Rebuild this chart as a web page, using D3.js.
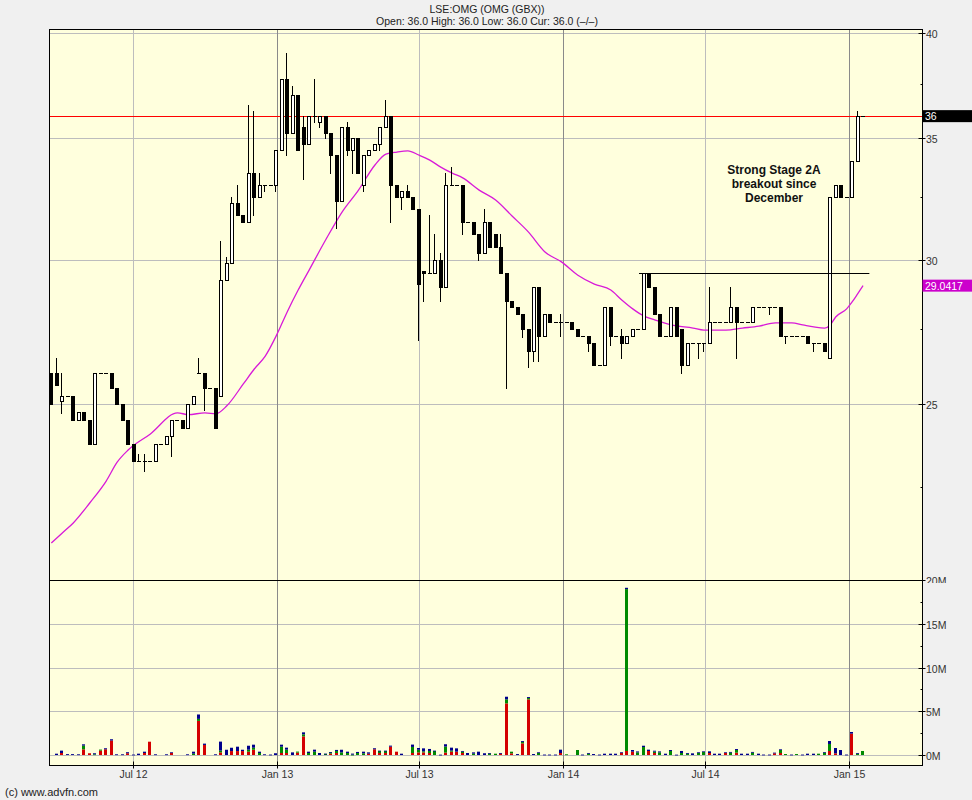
<!DOCTYPE html>
<html><head><meta charset="utf-8">
<script src="https://cdn.jsdelivr.net/npm/d3@7"></script>
<style>
body{margin:0;background:#f0f0f0;}
svg{display:block;}
text{font-family:"Liberation Sans",Arial,sans-serif;}
</style></head><body>
<svg id="c" width="972" height="800"></svg>
<script>
// ---------- DATA ----------
const firstWeek = new Date(2012, 2, 19);   // first weekly candle (Monday)
const lastWeek  = new Date(2015, 0, 19);   // last weekly candle (Monday)

const open  = [26,26,25.1,25.25,25.25,24.5,24.75,24.5,23.75,26,26,26,25.5,25,24.5,23.75,23.25,23.25,23.25,23.25,23.75,23.75,24,24.5,24.5,24.25,25,26,26,25.5,25.5,25.25,29.25,29.9,32.25,31.75,31.5,33.5,32.5,33,33,33,34.5,37.75,35.25,37,35.5,34.75,36,35.75,36,35.25,34.25,32.35,35.5,34.5,35,33,34.25,34.5,34.75,35.5,36,33,32.5,32.75,32.5,32,29.6,29.5,29.5,30,29,33,33,33,31.5,31.5,31,30.25,31.5,31,30.5,29.5,28.5,28.25,28,27.5,26.75,29,27.25,28,27.75,27.75,27.75,27.75,27.5,27.25,27.25,27,26.25,26.25,28.25,27.25,27.25,27,27.25,27.5,27.5,29.5,29,28,27.25,27.25,28.25,27.5,26.25,27,27,27,27,27.75,27.75,27.75,27.75,28.25,27.75,27.75,27.75,28.25,28.25,28.25,28.25,28.25,27.25,27.25,27.25,27.25,27.25,27,27,27,26.5,32.5,33,32.5,32.5,34,36];
const high  = [26,26.5,26,25.25,25.25,24.75,24.75,24.5,26,26,26,26,25.5,25,24.5,23.75,23.45,23.45,23.25,23.75,23.75,24,24.5,24.5,24.5,25,25.25,26.5,26,25.5,25.5,30.75,30.1,32.5,33,31.75,36.5,36.25,33.5,33,33,34.5,37.75,39,37.4,37,36,36,37.75,36,36,35.25,34.25,35.5,35.75,35,35,34.25,34.5,34.75,35.5,36.75,36,33,32.75,33,32.5,32,29.6,31.75,31,30.25,33.5,33.75,33,33,31.5,31.5,31,32,31.5,31,31,29.5,28.5,28.25,28,27.5,29,29,28,28,27.75,28,27.75,27.75,27.5,27.25,27.25,27,26.25,28.25,28.25,27.25,27.5,27.25,27.5,27.5,29.5,29.5,29,28,27.25,28.25,28.25,27.5,27,27,27,27,29,27.75,27.75,27.75,29,28.25,27.75,27.75,28.25,28.25,28.25,28.25,28.25,28.25,27.25,27.25,27.25,27.25,27.25,27,27,27,32.5,33,33,32.5,34,36.25,36];
const low   = [25,25.6,24.7,25.25,24.5,24.5,24.5,23.75,23.75,26,26,25.5,25,24.5,23.75,23.25,23.25,22.95,23.25,23.25,23.75,23.75,23.4,24.5,24.25,24.25,25,26,24.8,25.5,24.25,25.25,29.25,29.9,31.75,31.5,31.5,31.75,32.5,32.75,33,32.75,34.5,34.25,35.25,34.5,33.25,34.75,35.75,35.5,35,33.5,31.25,32.35,34.25,33.5,33.5,32.75,34.25,34.5,34.5,35.5,31.5,32.5,32,32.5,32,27.1,28.5,29.5,29.5,28.5,29,33,33,31,31.5,31,30,30.25,30.5,30.5,29.5,25.5,28.25,28,27.2,26.2,26.4,26.4,27.25,27.75,27.75,27.25,27.75,27.5,27.25,27.25,26.75,26.25,26.25,26.25,26.95,27.25,26.5,27,27.25,27.5,27.5,29,28,27.25,27.25,27.25,27.25,26,26.25,27,26.5,26.75,27,27.75,27.75,27.75,27.75,26.5,27.75,27.75,27.75,28.25,28.25,28,28.25,27.25,27,27.25,27.25,27.25,27,26.75,27,26.75,26.5,32.5,32.5,32.5,32.5,34,36];
const close = [25,25.6,25.25,25.25,24.5,24.75,24.5,23.75,26,26,26,25.5,25,24.5,23.75,23.25,23.25,23.25,23.25,23.75,23.75,24,24.5,24.5,24.25,25,25.25,26,25.5,25.5,24.25,29.25,29.9,32.25,31.75,31.5,33.5,32.5,33,33,33,34.5,37.75,35.25,37,34.5,34.75,36,36,36,35.25,34.25,32.35,35.5,34.5,35,33.5,34.25,34.5,34.75,35.5,36,33,32.5,32.75,32.5,32,29.1,29.5,29.5,30,29,33,33,33,31.5,31.5,31,30.25,31.5,30.5,30.5,29.5,28.5,28.25,28,27.5,26.75,29,27.25,28,27.75,27.75,27.75,27.75,27.5,27.25,27.25,27,26.25,26.25,28.25,27.25,27.25,27,27.25,27.5,27.5,29.5,29,28,27.25,27.25,28.25,27.25,26.25,27,27,27,27,27.75,27.75,27.75,27.75,28.25,27.75,27.75,27.75,28.25,28.25,28.25,28.25,28.25,27.25,27.25,27.25,27.25,27.25,27,27,27,26.75,32.5,33,32.5,32.5,34,36,36];

// weekly volume (millions of shares), split in three stacked parts
const volRed   = [0,0,0.23,0,0,0,0.65,0.2,0,0.5,0.65,1.65,0,0,0.2,0,0,0.23,1.52,0,0,0,0.23,0,0,0,0,3.9,1.15,0,0,0.3,0,0.45,0.45,0.45,0.38,0.6,0,0,0,0,0.23,0.23,0,0.27,2.13,0,0,0,0,0.15,0.23,0,0,0,0,0,0.15,0.65,0.23,0.23,0.95,0.38,0,0,0.23,0.3,0.3,0.23,0,0,0.27,0.38,0.38,0.23,0,0,0,0,0,0,0.15,5.9,0.19,0,1.33,6.36,0,0,0,0,0,0.23,0,0,0,0,0,0,0,0,0,0,0.23,0.46,0.38,0,0,0.46,0.23,0,0,0,0,0,0,0,0,0,0.23,0,0,0.23,0,0.27,0,0,0,0,0,0,0.19,0.23,0,0,0,0,0,0,0,0,0.46,0.19,0,0,2.44,0,0];
const volGreen = [0,0,0,0,0,0,0.42,0,0.08,0.12,0,0,0,0,0,0,0,0,0,0,0,0,0,0,0,0,0.15,0.23,0,0,0,0.2,0,0,0,0,0.23,0.23,0.23,0,0,0,0.72,0.38,0,0.12,0.23,0.23,0.38,0,0.12,0.15,0.23,0.3,0.23,0.04,0.23,0.19,0,0,0.23,0.23,0,0,0,0,0.69,0.3,0.12,0.23,0.46,0,0.69,0.12,0,0.15,0,0.15,0,0,0.15,0.15,0,0.46,0.19,0,0.15,0.15,0,0.23,0,0,0,0,0.08,0,0.57,0,0.15,0,0,0,0,0,0,18.5,0,0.3,0.91,0,0.15,0.3,0,0.46,0,0.23,0.15,0,0.23,0.34,0,0,0,0,0.27,0.3,0,0,0.27,0,0,0,0,0.34,0.11,0,0.11,0,0,0,0.15,0.27,0.8,0,0,0,0,0.15,0.46];
const volBlue  = [0,0.15,0.27,0.1,0.1,0.08,0.15,0,0.12,0,0.12,0.15,0.08,0.08,0.12,0.05,0.15,0.15,0,0.08,0,0.08,0.08,0,0,0.08,0.23,0.5,0.15,0,0.08,1.03,0.6,0.38,0.5,0.15,0.45,0.35,0.15,0.08,0.05,0.2,0.23,0.23,0.3,0,0.23,0.15,0.23,0.23,0.04,0.04,0.12,0.3,0.15,0.12,0.12,0.19,0.15,0.12,0.04,0.04,0.12,0,0.15,0,0.27,0.2,0.34,0.23,0.04,0.04,0.27,0.34,0.38,0.08,0.23,0.15,0.38,0.2,0.07,0,0.08,0.3,0,0.11,0.11,0.11,0.11,0.08,0.05,0.05,0.05,0.38,0,0,0,0.05,0.08,0.11,0.05,0.15,0.15,0.15,0.08,0.15,0.19,0.11,0.15,0.15,0.11,0.11,0.15,0.11,0.04,0.23,0.08,0.19,0.08,0.08,0.19,0.15,0.15,0.08,0.08,0.11,0.15,0.15,0.08,0.15,0.05,0.05,0.08,0.08,0,0.05,0,0.05,0.15,0.15,0,0.04,0.34,0.61,0.57,0.05,0.19,0.08,0];

// moving average at some candle weeks
const maWeek  = [0,2,4,7,10,12,14,18,23,25,28,30,32,35,37,39,41,43,45,47,50,53,56,59,61,63,65,67,69,71,73,75,78,81,84,87,90,93,96,99,102,104,106,108,110,113,117,119,123,126,129,132,135,137,139,141,142,143,145,146,147,148];
const maValue = [20.96,21.23,21.5,22.05,22.67,23.22,23.58,24.06,24.72,24.66,24.72,24.69,24.94,25.64,26.13,26.56,27.25,28.09,28.88,29.62,30.77,31.88,32.78,33.84,34.31,34.4,34.45,34.27,34.05,33.75,33.5,33.29,32.78,32.37,31.72,31.08,30.31,29.93,29.43,29.1,28.88,28.52,28.2,27.95,27.81,27.63,27.52,27.45,27.45,27.52,27.59,27.7,27.7,27.63,27.56,27.52,27.63,27.91,28.2,28.45,28.74,29.0417];

const priceTicks = [40,35,30,25,20];
const priceMinor = [37.5,32.5,27.5,22.5];
const volTicks   = [15,10,5,0];
const volMinor   = [17.5,12.5,7.5,2.5];
const timeTicks  = [new Date(2012,6,1),new Date(2013,0,1),new Date(2013,6,1),new Date(2014,0,1),new Date(2014,6,1),new Date(2015,0,1)];
const timeLabels = ["Jul 12","Jan 13","Jul 13","Jan 14","Jul 14","Jan 15"];
const lastPrice = 36, lastMA = 29.0417;
const resistance = {from:new Date(2014,3,8), to:new Date(2015,0,27), value:29.5};
const titleText = "LSE:OMG (OMG (GBX))";
const subText = "Open: 36.0 High: 36.0 Low: 36.0 Cur: 36.0 (\u2013/\u2013)";
const noteLines = ["Strong Stage 2A","breakout since","December"];

// ---------- LAYOUT ----------
const L=49.5, R=922.5, T=29.5, B=765.5, SPLIT=580.5;
const svg = d3.select('#c');
const weeks = d3.timeMonday.range(firstWeek, d3.timeDay.offset(lastWeek,1));

const base = d3.scaleTime().domain([new Date(2013,0,1), new Date(2014,0,1)]).range([277,563]);
const x = d3.scaleTime().domain([base.invert(L), base.invert(R)]).range([L,R]);
const y = d3.scaleLog().domain([20,40]).range([580,33]);
const yv = d3.scaleLinear().domain([0,20]).range([755,580]);

svg.append('rect').attr('width',972).attr('height',800).attr('fill','#f0f0f0');
svg.append('rect').attr('x',L).attr('y',T).attr('width',R-L).attr('height',B-T).attr('fill','#ffffdd');

const defs = svg.append('defs');
defs.append('clipPath').attr('id','plot').append('rect').attr('x',L+0.5).attr('y',T+0.5).attr('width',R-L-1).attr('height',B-T-1);
defs.append('clipPath').attr('id','lab20').append('rect').attr('x',922).attr('y',570).attr('width',50).attr('height',13);

const g = svg.append('g').attr('clip-path','url(#plot)');
const cr = v => Math.round(v)+0.5;

// grid
priceTicks.slice(0,4).forEach(v=>{
  g.append('line').attr('x1',L).attr('x2',R).attr('y1',cr(y(v))).attr('y2',cr(y(v))).attr('stroke','#bdbdbd');
});
volTicks.forEach(v=>{
  g.append('line').attr('x1',L).attr('x2',R).attr('y1',cr(yv(v))).attr('y2',cr(yv(v))).attr('stroke','#bdbdbd');
});
timeTicks.forEach((d,i)=>{
  const xx = cr(x(d));
  g.append('line').attr('x1',xx).attr('x2',xx).attr('y1',T).attr('y2',B)
    .attr('stroke', timeLabels[i].startsWith('Jan') ? '#8a8a8a' : '#bdbdbd');
});

// last price line
g.append('line').attr('x1',L).attr('x2',R).attr('y1',cr(y(lastPrice))).attr('y2',cr(y(lastPrice))).attr('stroke','#ff0000');

// moving average
const maPts = maWeek.map((w,i)=>[weeks[w], maValue[i]]);
g.append('path').datum(maPts)
  .attr('d', d3.line().x(d=>x(d[0])).y(d=>y(d[1])).curve(d3.curveMonotoneX))
  .attr('fill','none').attr('stroke','#d81ad8').attr('stroke-width',1.3);

// candles
weeks.forEach((d,i)=>{
  const cx = Math.round(x(d));
  const o=open[i], h=high[i], l=low[i], c=close[i];
  const yo=Math.round(y(o)), yc=Math.round(y(c)), yh=Math.round(y(h)), yl=Math.round(y(l));
  if (yh!==yl) {
    g.append('line').attr('x1',cx-0.5).attr('x2',cx-0.5).attr('y1',yh).attr('y2',yl+1).attr('stroke','#000');
  }
  if (yo===yc) {
    g.append('line').attr('x1',cx-2).attr('x2',cx+2).attr('y1',yo+0.5).attr('y2',yo+0.5).attr('stroke','#000');
  } else if (c<o) {
    g.append('rect').attr('x',cx-2).attr('y',yo).attr('width',4).attr('height',yc-yo+1).attr('fill','#000');
  } else {
    g.append('rect').attr('x',cx-1.5).attr('y',yc+0.5).attr('width',3).attr('height',yo-yc).attr('fill','#fff').attr('stroke','#000');
  }
});

// resistance line
g.append('line').attr('x1',x(resistance.from)).attr('x2',x(resistance.to))
  .attr('y1',cr(y(resistance.value))).attr('y2',cr(y(resistance.value))).attr('stroke','#000');

// volume bars
weeks.forEach((d,i)=>{
  const cx = Math.round(x(d));
  const parts = [[volRed[i],'#d40000'],[volGreen[i],'#008a00'],[volBlue[i],'#00008b']];
  let acc = 0;
  parts.forEach(([v,col])=>{
    if (v<=0) return;
    const y0 = yv(acc), y1 = yv(acc+v);
    g.append('rect').attr('x',cx-2).attr('y',y1).attr('width',3).attr('height',Math.max(0.8,y0-y1)).attr('fill',col);
    acc += v;
  });
});

// panel separator and frame
svg.append('line').attr('x1',L).attr('x2',R).attr('y1',SPLIT).attr('y2',SPLIT).attr('stroke','#000');
svg.append('rect').attr('x',L).attr('y',T).attr('width',R-L).attr('height',B-T).attr('fill','none').attr('stroke','#000');

// right axis ticks and labels
const axisG = svg.append('g');
priceTicks.forEach(v=>{
  const yy = cr(y(v));
  axisG.append('line').attr('x1',R-4).attr('x2',R+3).attr('y1',yy).attr('y2',yy).attr('stroke','#000');
  if (v!==20) axisG.append('text').attr('x',926).attr('y',yy+4).attr('font-size','10.5px').attr('fill','#333').text(v);
});
priceMinor.forEach(v=>{
  const yy = cr(y(v));
  axisG.append('line').attr('x1',R-2).attr('x2',R).attr('y1',yy).attr('y2',yy).attr('stroke','#000');
});
volTicks.forEach(v=>{
  const yy = cr(yv(v));
  axisG.append('line').attr('x1',R-4).attr('x2',R+3).attr('y1',yy).attr('y2',yy).attr('stroke','#000');
  axisG.append('text').attr('x',926).attr('y',yy+4).attr('font-size','10.5px').attr('fill','#333').text(v+'M');
});
volMinor.forEach(v=>{
  const yy = cr(yv(v));
  axisG.append('line').attr('x1',R-2).attr('x2',R).attr('y1',yy).attr('y2',yy).attr('stroke','#000');
});
axisG.append('text').attr('x',926).attr('y',cr(yv(20))+4).attr('font-size','10.5px').attr('fill','#333')
  .attr('clip-path','url(#lab20)').text('20M');

// last price / MA boxes
const yLast = y(lastPrice);
axisG.append('rect').attr('x',R).attr('y',yLast-6).attr('width',972-R).attr('height',12).attr('fill','#000');
axisG.append('text').attr('x',925).attr('y',yLast+4).attr('font-size','10.5px').attr('fill','#fff').text(String(lastPrice));
const yMA = y(lastMA);
axisG.append('rect').attr('x',R).attr('y',yMA-6).attr('width',972-R).attr('height',12).attr('fill','#cc00cc');
axisG.append('text').attr('x',925).attr('y',yMA+4).attr('font-size','10.5px').attr('fill','#fff').text(String(lastMA));

// bottom axis
timeTicks.forEach((d,i)=>{
  const xx = cr(x(d));
  axisG.append('line').attr('x1',xx).attr('x2',xx).attr('y1',B-4).attr('y2',B+3).attr('stroke','#000');
  axisG.append('text').attr('x',xx).attr('y',B+12).attr('text-anchor','middle').attr('font-size','10.5px').attr('fill','#333').text(timeLabels[i]);
});

// titles
svg.append('text').attr('x',487).attr('y',13).attr('text-anchor','middle').attr('font-size','10.5px').attr('fill','#222').text(titleText);
svg.append('text').attr('x',487).attr('y',25).attr('text-anchor','middle').attr('font-size','10.5px').attr('fill','#222').text(subText);
svg.append('text').attr('x',5).attr('y',796).attr('font-size','11px').attr('fill','#222').text('(c) www.advfn.com');

// annotation
noteLines.forEach((t,i)=>{
  svg.append('text').attr('x',774).attr('y',174+i*14).attr('text-anchor','middle')
    .attr('font-size','12px').attr('font-weight','bold').attr('fill','#111').text(t);
});
</script>
</body></html>
